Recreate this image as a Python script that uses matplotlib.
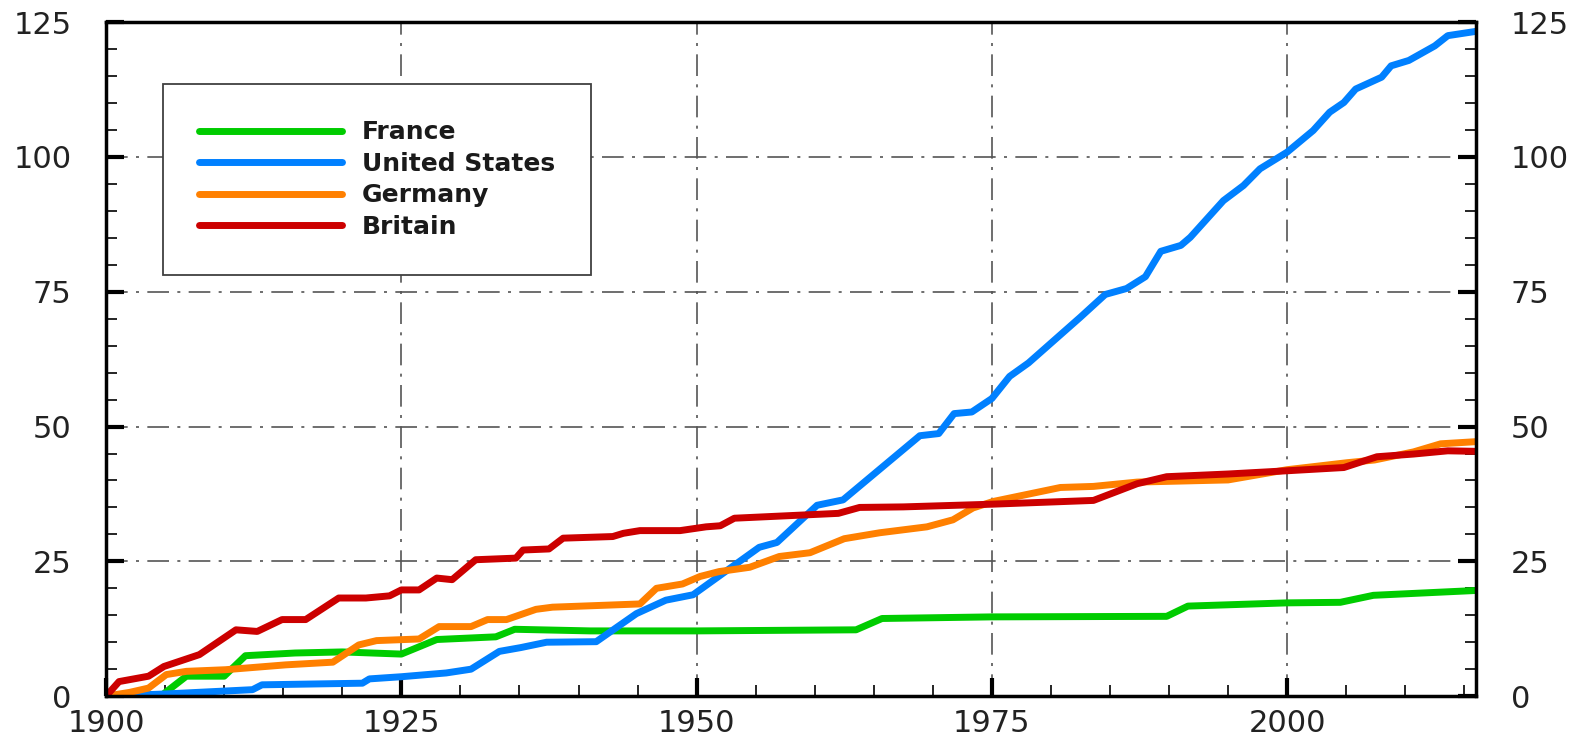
import matplotlib
matplotlib.use('Agg')
import matplotlib.pyplot as plt
from matplotlib.ticker import MultipleLocator

# cumulative counts
france_years = [1900, 1904.8, 1906.8, 1910, 1911.8, 1916, 1920, 1925, 1928, 1933, 1934.6, 1941,
                1950, 1963.5, 1965.7, 1975, 1989.8, 1991.6, 2000, 2004.5, 2007.3, 2016]
france_vals = [0, 0.3, 3.7, 3.7, 7.5, 8.0, 8.2, 7.8, 10.5, 11.0, 12.4, 12.1,
               12.1, 12.3, 14.4, 14.7, 14.8, 16.7, 17.3, 17.4, 18.7, 19.6]

us_years = [1900, 1905, 1912.4, 1913.2, 1921.7, 1922.3, 1925, 1928.8, 1930.9, 1933.3, 1935.1,
            1937.3, 1941.5, 1944.9, 1947.4, 1949.7, 1955.3, 1956.8, 1960.2, 1962.4, 1968.9,
            1970.5, 1971.8, 1973.3, 1975, 1976.5, 1978.1, 1982.5, 1984.6, 1986.4, 1988,
            1989.3, 1991, 1991.8, 1994.6, 1996.3, 1997.7, 2000, 2002.2, 2003.6, 2004.8,
            2005.8, 2008, 2008.8, 2010.3, 2012.5, 2013.6, 2016]
us_vals = [0, 0.4, 1.2, 2.1, 2.4, 3.2, 3.6, 4.3, 5.0, 8.3, 9.0,
           10.0, 10.1, 15.3, 17.8, 18.8, 27.6, 28.5, 35.4, 36.4, 48.3,
           48.7, 52.4, 52.7, 55.2, 59.3, 61.8, 70.3, 74.5, 75.6, 77.8,
           82.5, 83.6, 85.1, 91.9, 94.7, 97.8, 100.9, 104.9, 108.3, 110.1,
           112.6, 114.8, 116.9, 117.9, 120.6, 122.5, 123.3]

germany_years = [1900, 1902, 1903.6, 1905.1, 1906.8, 1910.1, 1915.2, 1919.2, 1921.4, 1922.9,
                 1926.5, 1928.2, 1930.9, 1932.3, 1933.9, 1936.4, 1937.8, 1945.2, 1946.6, 1948.8,
                 1950.3, 1951.9, 1954.5, 1957, 1959.6, 1962.5, 1965.5, 1969.5, 1971.7, 1973.4,
                 1975.1, 1980.8, 1983.6, 1987.3, 1995, 2000, 2005.1, 2007.4, 2010.7, 2013, 2016]
germany_vals = [0, 0.7, 1.5, 4.0, 4.6, 4.9, 5.8, 6.3, 9.5, 10.3,
                10.6, 12.9, 12.9, 14.2, 14.2, 16.1, 16.5, 17.1, 20.0, 20.8,
                22.2, 23.1, 23.9, 25.9, 26.6, 29.2, 30.3, 31.4, 32.7, 34.9,
                36.1, 38.7, 38.9, 39.7, 40.1, 42.0, 43.3, 43.8, 45.3, 46.8, 47.2]

britain_years = [1900, 1901.1, 1903.6, 1904.9, 1907.9, 1911, 1912.8, 1914.9, 1916.9, 1919.7,
                 1922, 1924, 1925, 1926.5, 1928, 1929.3, 1931.3, 1934.7, 1935.3, 1937.5,
                 1938.7, 1942.9, 1943.8, 1945.2, 1948.6, 1950.8, 1952, 1953.2, 1962, 1963.8,
                 1967.5, 1975, 1983.6, 1987.3, 1989.8, 1995, 2000, 2004.8, 2007.6, 2010.7,
                 2013.6, 2016]
britain_vals = [0, 2.7, 3.7, 5.5, 7.7, 12.3, 12.0, 14.2, 14.2, 18.2,
                18.2, 18.6, 19.7, 19.7, 21.9, 21.6, 25.3, 25.6, 27.1, 27.3,
                29.3, 29.6, 30.2, 30.7, 30.7, 31.4, 31.6, 33.0, 33.9, 35.0,
                35.1, 35.6, 36.3, 39.4, 40.7, 41.2, 41.8, 42.4, 44.4, 44.9,
                45.5, 45.4]

fig = plt.figure(figsize=(15.83, 7.39), dpi=100)
ax = fig.add_axes([0.067, 0.058, 0.8655, 0.912])

ax.plot(france_years, france_vals, color='#00cc00', lw=5, label='France', solid_capstyle='round')
ax.plot(us_years, us_vals, color='#0080ff', lw=5, label='United States', solid_capstyle='round')
ax.plot(germany_years, germany_vals, color='#ff8000', lw=5, label='Germany', solid_capstyle='round')
ax.plot(britain_years, britain_vals, color='#cc0000', lw=5, label='Britain', solid_capstyle='round')

ax.set_xlim(1900, 2016)
ax.set_ylim(0, 125)
ax.xaxis.set_major_locator(MultipleLocator(25))
ax.xaxis.set_minor_locator(MultipleLocator(5))
ax.yaxis.set_major_locator(MultipleLocator(25))
ax.yaxis.set_minor_locator(MultipleLocator(5))

ax.grid(True, which='major', color='#555555', lw=1.2, linestyle=(0, (13, 5, 1.8, 5)))
ax.set_axisbelow(True)

for s in ax.spines.values():
    s.set_linewidth(2.5)

ax.tick_params(axis='both', which='major', direction='in', length=13, width=3, labelsize=22,
               labelcolor='#222222')
ax.tick_params(axis='both', which='minor', direction='in', length=8, width=1.2)
ax.tick_params(axis='y', which='both', left=True, right=True, labelleft=True, labelright=True)
ax.tick_params(axis='y', which='major', pad=25)
ax.tick_params(axis='x', which='major', pad=9)
ax.tick_params(axis='x', which='both', top=False)

leg = ax.legend(loc='upper left', bbox_to_anchor=(0.0416, 0.908), borderaxespad=0,
                prop={'weight': 'bold', 'size': 18}, handlelength=5.7, handletextpad=0.8,
                borderpad=1.45, labelspacing=0.3, fancybox=False, framealpha=1)
leg.get_frame().set_edgecolor('#404040')
leg.get_frame().set_linewidth(1.3)
for t in leg.get_texts():
    t.set_color('#1a1a1a')

fig.savefig('out.png', dpi=100)
